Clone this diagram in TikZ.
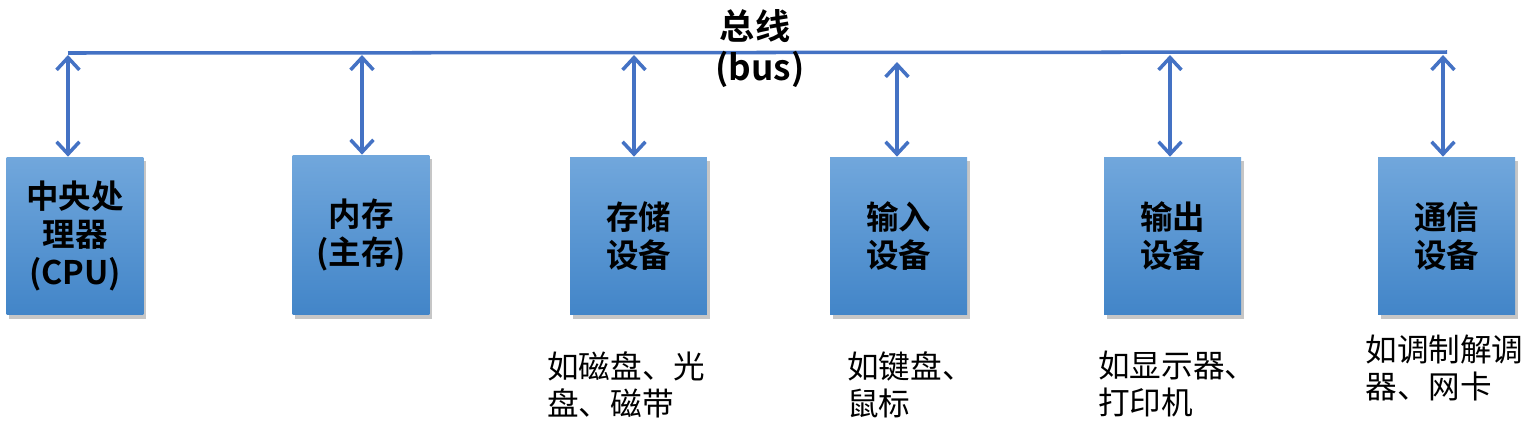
\documentclass[tikz,border=0pt]{standalone}
\usepackage{fontspec}
\newfontfamily\cjk[BoldFont={Noto Sans CJK SC Bold}]{Noto Sans CJK SC}
\usetikzlibrary{arrows.meta,shadows}
\definecolor{buscol}{HTML}{4472C4}
\definecolor{boxtop}{HTML}{71A7DC}
\definecolor{boxbot}{HTML}{4285C8}
\tikzset{
  unit/.style={rectangle, top color=boxtop, bottom color=boxbot,
    minimum width=2.74cm, minimum height=3.16cm, inner sep=0pt, align=center,
    font=\cjk\bfseries\fontsize{18.5}{21.5}\selectfont,
    drop shadow={shadow xshift=1.5pt,shadow yshift=-2.5pt,opacity=0.45}},
  link/.style={buscol, line width=2pt,
    {Straight Barb[length=7pt,width=13pt]}-{Straight Barb[length=7pt,width=13pt]}},
  note/.style={anchor=north west, align=left, inner sep=0pt,
    font=\cjk\fontsize{18}{21}\selectfont}
}
\begin{document}
\begin{tikzpicture}[x=0.02cm,y=-0.02cm]
  \useasboundingbox (0,0) rectangle (1533,427);
  % the bus
  \coordinate (busL) at (68,53);
  \coordinate (busR) at (1447,52);
  \draw[buscol,line width=2pt] (busL) -- (busR);
  \node[font=\cjk\bfseries\fontsize{20}{22}\selectfont] (title) at (755,26) {总线};
  \node[font=\cjk\bfseries\fontsize{20}{22}\selectfont] (bus) at (760,69) {(bus)};
  % the units
  \node[unit] (cpu) at (75,236) {中央处\\理器\\(CPU)};
  \node[unit,minimum height=3.2cm] (mem) at (361,235) {内存\\(主存)};
  \node[unit] (disk) at (638.5,236) {存储\\设备};
  \node[unit] (in) at (898.5,236) {输入\\设备};
  \node[unit] (out) at (1172.5,236) {输出\\设备};
  \node[unit] (com) at (1446.5,236) {通信\\设备};
  % links to the bus
  \foreach \n/\x/\y in {cpu/68/55,mem/362/55,disk/634/55,in/897/62,out/1170/55,com/1443/55}{
    \coordinate (a-\n) at (\x,\y);
    \draw[link] (a-\n) -- (a-\n |- \n.north);
  }
  % examples
  \node[note] (diskex) at (547,351) {如磁盘、光\\盘、磁带};
  \node[note] (inex) at (847,351) {如键盘、\\鼠标};
  \node[note] (outex) at (1098,351) {如显示器、\\打印机};
  \node[note] (comex) at (1365,335) {如调制解调\\器、网卡};
\end{tikzpicture}
\end{document}
